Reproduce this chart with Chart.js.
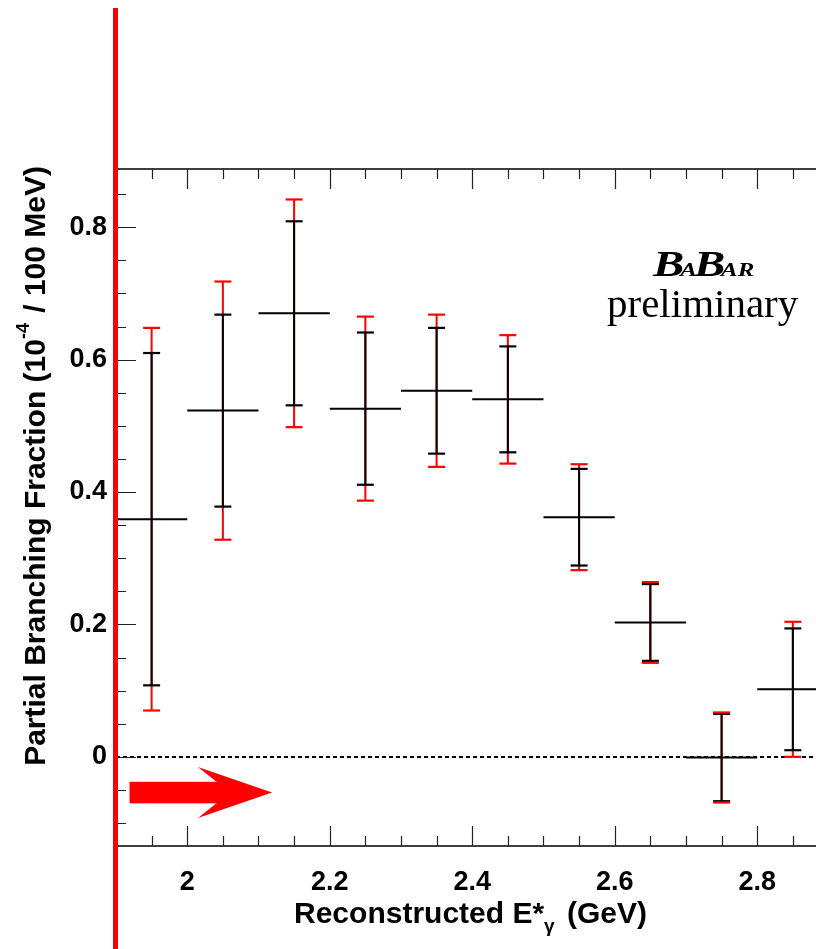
<!DOCTYPE html>
<html>
<head>
<meta charset="utf-8">
<script src="https://cdn.jsdelivr.net/npm/chart.js@4.4.1/dist/chart.umd.min.js"></script>
<style>
  html, body { margin: 0; padding: 0; background: #fff; overflow: hidden; }
  #wrap { position: relative; width: 816px; height: 949px; }
</style>
</head>
<body>
<div id="wrap"><canvas id="chart" width="816" height="949"></canvas></div>
<script>
// ===================================
// DATA
// ===================================
const binCenters = [1.95, 2.05, 2.15, 2.25, 2.35, 2.45, 2.55, 2.65, 2.75, 2.85];
const binHalfWidth = 0.05;
const values   = [0.359, 0.523, 0.670, 0.526, 0.553, 0.540, 0.362, 0.203, -0.001, 0.102];
const statErr  = [0.251, 0.145, 0.139, 0.115, 0.095, 0.080, 0.073, 0.058, 0.066, 0.092];
const totalErr = [0.289, 0.195, 0.172, 0.139, 0.115, 0.097, 0.080, 0.061, 0.068, 0.102];

const xMajorTicks = [2.0, 2.2, 2.4, 2.6, 2.8];
const xTickLabels = ['2', '2.2', '2.4', '2.6', '2.8'];
const xMinorTicks = [1.95, 2.05, 2.1, 2.15, 2.25, 2.3, 2.35, 2.45, 2.5, 2.55, 2.65, 2.7, 2.75, 2.85];
const yMajorTicks = [0, 0.2, 0.4, 0.6, 0.8];
const yTickLabels = ['0', '0.2', '0.4', '0.6', '0.8'];
const yMinorTicks = [-0.1, -0.05, 0.05, 0.1, 0.15, 0.25, 0.3, 0.35, 0.45, 0.5, 0.55, 0.65, 0.7, 0.75, 0.85];

// signal-region arrow, in data units
const arrowTail = 1.919;
const arrowInner = 2.06;
const arrowBarb = 2.015;
const arrowTip = 2.119;
const arrowY = -0.054;
const arrowBodyHalf = 0.0163;
const arrowHeadHalf = 0.0385;

const xMin = 1.9, xMax = 2.8825;
const yMin = -0.1347, yMax = 0.888;

const SANS = '"Liberation Sans", Arial, Helvetica, sans-serif';
const SERIF = '"Liberation Serif", "Times New Roman", serif';

// ===================================
// BUILD SEGMENTS
// ===================================
function segments(fn) {
    const pts = [];
    binCenters.forEach((c, i) => {
        const [a, b] = fn(c, i);
        pts.push(a, b, { x: c, y: null });
    });
    return pts;
}

const hBars = segments((c, i) => [{ x: c - binHalfWidth, y: values[i] }, { x: c + binHalfWidth, y: values[i] }]);
const statBars = segments((c, i) => [{ x: c, y: values[i] - statErr[i] }, { x: c, y: values[i] + statErr[i] }]);
const totalBars = segments((c, i) => [{ x: c, y: values[i] - totalErr[i] }, { x: c, y: values[i] + totalErr[i] }]);

const statCaps = [];
const totalCaps = [];
binCenters.forEach((c, i) => {
    statCaps.push({ x: c, y: values[i] - statErr[i] }, { x: c, y: values[i] + statErr[i] });
    totalCaps.push({ x: c, y: values[i] - totalErr[i] }, { x: c, y: values[i] + totalErr[i] });
});

function lineSet(data, color, order) {
    return {
        type: 'line', data, borderColor: color, borderWidth: 2,
        pointRadius: 0, spanGaps: false, tension: 0, order
    };
}
function capSet(data, color, order) {
    return {
        type: 'scatter', data, pointStyle: 'line', pointRadius: 8.5,
        borderColor: color, backgroundColor: color, borderWidth: 2.2, order
    };
}

// ===================================
// FRAME / DECORATION PLUGIN
// ===================================
function drawRich(ctx, parts, x, y, align) {
    let total = 0;
    parts.forEach(p => { ctx.font = p.font; p.w = ctx.measureText(p.t).width + (p.gap || 0); total += p.w; });
    let cx = align === 'right' ? x - total : (align === 'center' ? x - total / 2 : x);
    parts.forEach(p => {
        ctx.font = p.font;
        ctx.fillText(p.t, cx, y + (p.dy || 0));
        cx += p.w;
    });
}

const rootFrame = {
    id: 'rootFrame',
    beforeDatasetsDraw(chart) {
        const { ctx, chartArea: a, scales: { y } } = chart;
        // dashed zero line
        ctx.save();
        ctx.strokeStyle = '#000';
        ctx.lineWidth = 2;
        ctx.setLineDash([4, 3]);
        const y0 = Math.round(y.getPixelForValue(0));
        ctx.beginPath();
        ctx.moveTo(a.left, y0);
        ctx.lineTo(a.right, y0);
        ctx.stroke();
        ctx.restore();
    },
    afterDraw(chart) {
        const { ctx, chartArea: a, scales: { x, y } } = chart;
        ctx.save();
        ctx.strokeStyle = '#000';
        ctx.lineWidth = 1.3;
        // axis lines
        ctx.beginPath();
        ctx.moveTo(a.left, a.top); ctx.lineTo(a.right, a.top);
        ctx.moveTo(a.left, a.bottom); ctx.lineTo(a.right, a.bottom);
        ctx.moveTo(a.left, a.top); ctx.lineTo(a.left, a.bottom);
        ctx.stroke();
        // ticks, drawn inward
        ctx.lineWidth = 1.2;
        ctx.strokeStyle = '#222';
        ctx.beginPath();
        const xt = (v, len) => {
            const px = Math.round(x.getPixelForValue(v)) + 0.5;
            ctx.moveTo(px, a.bottom); ctx.lineTo(px, a.bottom - len);
            ctx.moveTo(px, a.top); ctx.lineTo(px, a.top + len);
        };
        const yt = (v, len) => {
            const py = Math.round(y.getPixelForValue(v)) + 0.5;
            ctx.moveTo(a.left, py); ctx.lineTo(a.left + len, py);
        };
        xMajorTicks.forEach(v => xt(v, 20));
        xMinorTicks.forEach(v => xt(v, 10));
        yMajorTicks.forEach(v => yt(v, 20));
        yMinorTicks.forEach(v => yt(v, 10));
        ctx.stroke();

        // red arrow
        const px = v => x.getPixelForValue(v);
        const py = v => y.getPixelForValue(v);
        ctx.fillStyle = '#ff0000';
        ctx.fillRect(px(arrowTail), py(arrowY + arrowBodyHalf),
            px(arrowInner) - px(arrowTail), py(arrowY - arrowBodyHalf) - py(arrowY + arrowBodyHalf));
        ctx.beginPath();
        ctx.moveTo(px(arrowBarb), py(arrowY + arrowHeadHalf));
        ctx.lineTo(px(arrowTip), py(arrowY));
        ctx.lineTo(px(arrowBarb), py(arrowY - arrowHeadHalf));
        ctx.lineTo(px(arrowInner), py(arrowY));
        ctx.closePath();
        ctx.fill();

        // axis titles
        ctx.fillStyle = '#000';
        ctx.textBaseline = 'alphabetic';
        drawRich(ctx, [
            { t: 'Reconstructed E*', font: 'bold 30px ' + SANS },
            { t: 'γ', font: 'bold 19px ' + SANS, dy: 9, gap: 4 },
            { t: ' (GeV)', font: 'bold 30px ' + SANS }
        ], 647, 923, 'right');

        ctx.save();
        ctx.translate(45, 166);
        ctx.rotate(-Math.PI / 2);
        drawRich(ctx, [
            { t: 'Partial Branching Fraction (10', font: 'bold 30px ' + SANS },
            { t: '-4', font: 'bold 18px ' + SANS, dy: -16, gap: 2 },
            { t: ' / 100 MeV)', font: 'bold 30px ' + SANS }
        ], 0, 0, 'right');
        ctx.restore();

        // BABAR logo + preliminary
        ctx.save();
        ctx.translate(653, 276);
        ctx.scale(1.38, 1.05);
        drawRich(ctx, [
            { t: 'B', font: 'italic bold 34px ' + SERIF, gap: -3 },
            { t: 'A', font: 'italic bold 18px ' + SERIF, gap: -2 },
            { t: 'B', font: 'italic bold 34px ' + SERIF, gap: -3 },
            { t: 'AR', font: 'italic bold 18px ' + SERIF }
        ], 0, 0, 'left');
        ctx.restore();
        ctx.font = '41px ' + SERIF;
        ctx.textAlign = 'left';
        ctx.fillText('preliminary', 607, 317);

        // red vertical line at left
        ctx.fillStyle = '#ff0000';
        ctx.fillRect(a.left - 3, 8, 5, chart.height - 8);
        ctx.restore();
    }
};

// ===================================
// CHART
// ===================================
const tickFont = { family: SANS, size: 27, weight: 'bold' };

new Chart(document.getElementById('chart'), {
    data: {
        datasets: [
            lineSet(totalBars, '#ff0000', 6),
            lineSet(statBars, '#000000', 5),
            lineSet(hBars, '#000000', 4),
            capSet(statCaps, '#000000', 3),
            capSet(totalCaps, '#ff0000', 2)
        ]
    },
    options: {
        responsive: false,
        animation: false,
        events: [],
        layout: { autoPadding: false, padding: { top: 169, right: 0, left: 0, bottom: 0 } },
        plugins: { legend: { display: false }, tooltip: { enabled: false } },
        scales: {
            x: {
                type: 'linear', min: xMin, max: xMax,
                grid: { display: false }, border: { display: false },
                afterBuildTicks: s => { s.ticks = xMajorTicks.map(v => ({ value: v })); },
                afterFit: s => { s.height = 103; s.paddingLeft = 0; s.paddingRight = 0; },
                ticks: {
                    autoSkip: false, maxRotation: 0, padding: 12, color: '#000', font: tickFont,
                    callback: v => { const i = xMajorTicks.indexOf(v); return i >= 0 ? xTickLabels[i] : ''; }
                }
            },
            y: {
                type: 'linear', min: yMin, max: yMax,
                grid: { display: false }, border: { display: false },
                afterBuildTicks: s => { s.ticks = yMajorTicks.map(v => ({ value: v })); },
                afterFit: s => { s.width = 116; s.paddingTop = 0; s.paddingBottom = 0; },
                ticks: {
                    padding: 1, color: '#000', font: tickFont,
                    callback: v => { const i = yMajorTicks.indexOf(v); return i >= 0 ? yTickLabels[i] : ''; }
                }
            }
        }
    },
    plugins: [rootFrame]
});
</script>
</body>
</html>
